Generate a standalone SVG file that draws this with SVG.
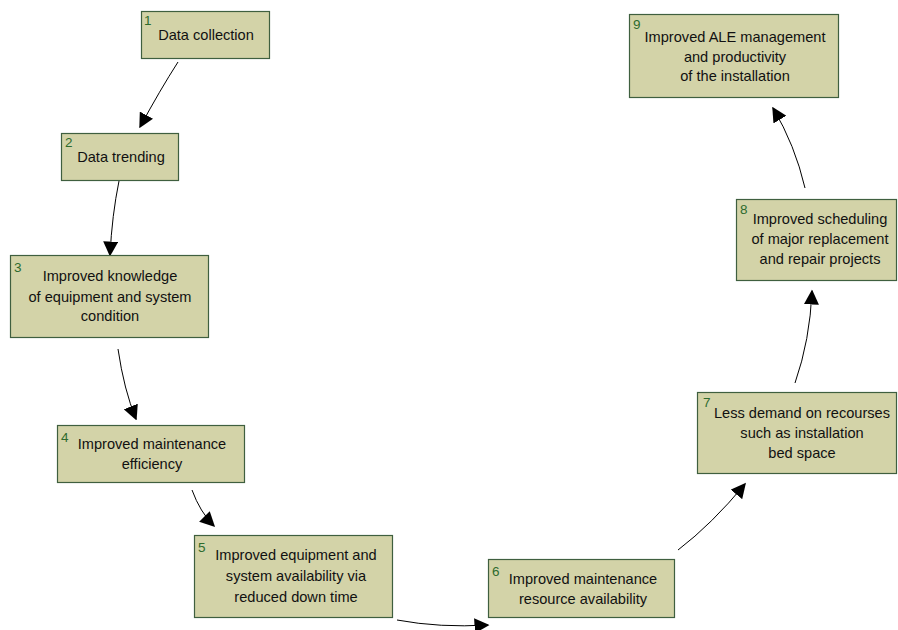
<svg xmlns="http://www.w3.org/2000/svg" width="898" height="630" viewBox="0 0 898 630">
<defs>
<style>
.box{fill:#d3d3a8;stroke:#3f5f3f;stroke-width:1.2}
.t{font-family:"Liberation Sans",Arial,sans-serif;font-size:14.6px;fill:#111;text-anchor:middle}
.n{font-family:"Liberation Sans",Arial,sans-serif;font-size:13.5px;fill:#2e6b2e}
.c{fill:none;stroke:#000;stroke-width:1;marker-end:url(#ah)}
</style>
<marker id="ah" viewBox="0 0 10 10" refX="9" refY="5" markerWidth="15" markerHeight="15" markerUnits="userSpaceOnUse" orient="auto">
<path d="M0,0 L10,5 L0,10 z" fill="#000"/>
</marker>
</defs>
<rect width="898" height="630" fill="#fff"/>
<g id="connectors">
<path class="c" d="M178,62 Q160,90 140,127"/>
<path class="c" d="M119,181 Q112,215 110,255"/>
<path class="c" d="M118,349 Q124,390 136,419"/>
<path class="c" d="M192,490 Q200,512 214,526"/>
<path class="c" d="M397,620 Q440,628 488,625"/>
<path class="c" d="M678,550 Q712,524 745,484"/>
<path class="c" d="M795,383 Q810,340 812,291"/>
<path class="c" d="M805,188 Q795,145 773,108"/>
</g>
<g id="n1"><rect class="box" x="141.5" y="11.5" width="128" height="47"/><text class="n" x="144" y="25">1</text><text class="t" x="206" y="40">Data collection</text></g>
<g id="n2"><rect class="box" x="61.5" y="133.5" width="117" height="47"/><text class="n" x="65" y="147">2</text><text class="t" x="121" y="162">Data trending</text></g>
<g id="n3"><rect class="box" x="10.5" y="255.5" width="198" height="82"/><text class="n" x="14" y="272">3</text><text class="t" x="110" y="281">Improved knowledge</text><text class="t" x="110" y="302">of equipment and system</text><text class="t" x="110" y="321">condition</text></g>
<g id="n4"><rect class="box" x="57.5" y="425.5" width="187" height="57"/><text class="n" x="61" y="442">4</text><text class="t" x="152" y="449">Improved maintenance</text><text class="t" x="152" y="469">efficiency</text></g>
<g id="n5"><rect class="box" x="194.5" y="535.5" width="198" height="82"/><text class="n" x="198" y="552">5</text><text class="t" x="296" y="560">Improved equipment and</text><text class="t" x="296" y="581">system availability via</text><text class="t" x="296" y="602">reduced down time</text></g>
<g id="n6"><rect class="box" x="488.5" y="559.5" width="186" height="58"/><text class="n" x="492" y="576">6</text><text class="t" x="583" y="584">Improved maintenance</text><text class="t" x="583" y="604">resource availability</text></g>
<g id="n7"><rect class="box" x="697.5" y="392.5" width="199" height="81"/><text class="n" x="703" y="407">7</text><text class="t" x="802" y="418">Less demand on recourses</text><text class="t" x="802" y="438">such as installation</text><text class="t" x="802" y="458">bed space</text></g>
<g id="n8"><rect class="box" x="736.5" y="199.5" width="160" height="81"/><text class="n" x="740" y="214">8</text><text class="t" x="820" y="224">Improved scheduling</text><text class="t" x="820" y="244">of major replacement</text><text class="t" x="820" y="264">and repair projects</text></g>
<g id="n9"><rect class="box" x="629.5" y="14.5" width="209" height="83"/><text class="n" x="633" y="29">9</text><text class="t" x="735" y="42">Improved ALE management</text><text class="t" x="735" y="62">and productivity</text><text class="t" x="735" y="81">of the installation</text></g>
</svg>
